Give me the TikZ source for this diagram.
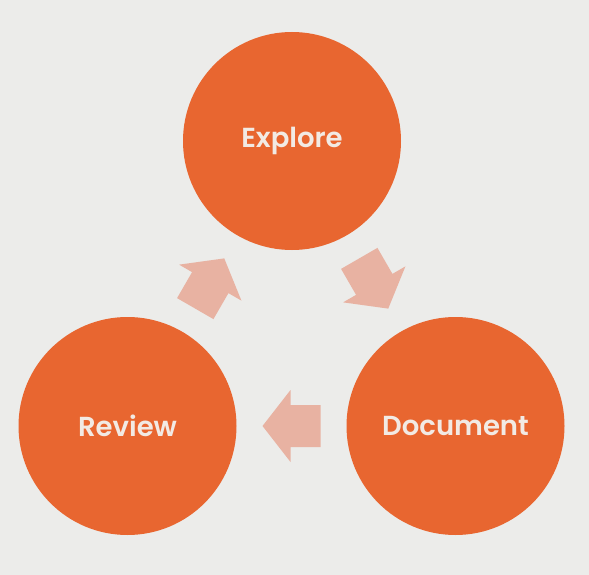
\documentclass[tikz,border=0pt]{standalone}
\usepackage{fontspec}
\setmainfont{Poppins}[BoldFont={Poppins SemiBold}]
\usetikzlibrary{calc}
\definecolor{bgcol}{HTML}{ECECEA}
\definecolor{circfill}{HTML}{E86630}
\definecolor{arrowfill}{HTML}{E8B2A2}
\definecolor{labelcol}{HTML}{F2EAE4}
\tikzset{
  phase/.style={circle, fill=circfill, minimum size=218pt, inner sep=0pt,
    text=labelcol, font=\fontsize{27.5}{30}\selectfont\bfseries},
  blockarrow/.pic={\fill[arrowfill] (-29,-21) -- (1,-21) -- (1,-36) -- (29,0)
     -- (1,36) -- (1,21) -- (-29,21) -- cycle;}
}
\begin{document}
\begin{tikzpicture}[x=1pt,y=-1pt]
\fill[bgcol] (0,0) rectangle (589,575);
\useasboundingbox (0,0) rectangle (589,575);
\node[phase] (exp) at (292,141) {Explore};
\node[phase] (rev) at (127.5,426) {Review};
\node[phase] (doc) at (455.5,426) {Document};
\path ($(rev)!0.5!(exp)$) pic[rotate=60] {blockarrow};
\path ($(exp)!0.5!(doc)$) pic[rotate=-60] {blockarrow};
\path ($(doc)!0.5!(rev)$) pic[rotate=180] {blockarrow};
\end{tikzpicture}
\end{document}
